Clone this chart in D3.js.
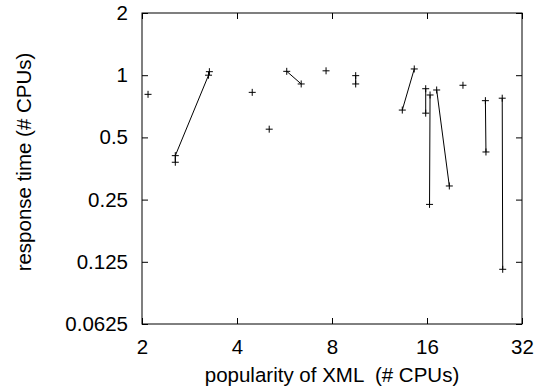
<!DOCTYPE html>
<html>
<head>
<meta charset="utf-8">
<script src="https://cdn.jsdelivr.net/npm/d3@7"></script>
<style>
  body { margin: 0; background: #fff; }
  svg { display: block; font-family: "Liberation Sans", Arial, sans-serif; }
  .axis path { display: none; }
  .axis line { stroke: #000; }
  .axis text { font-size: 20.5px; fill: #000; }
</style>
</head>
<body>
<div id="chart"></div>
<script>
// each measurement: which run it belongs to, popularity (x), response time (y)
const run = [0, 1, 1, 1, 1, 2, 3, 4, 4, 5, 6, 6, 7, 7, 8, 8, 9, 9, 10, 10, 11, 12, 12, 13, 13];
const popularity = [2.09, 2.55, 2.55, 3.25, 3.27, 4.47, 5.06, 5.75, 6.39, 7.66, 9.51, 9.51, 13.36, 14.58,
  15.85, 15.85, 16.36, 16.3, 17.17, 18.83, 20.8, 24.5, 24.6, 27.7, 27.8];
const responseTime = [0.808, 0.379, 0.408, 1.0, 1.04, 0.826, 0.548, 1.044, 0.907, 1.05, 0.995, 0.907, 0.678, 1.072,
  0.86, 0.655, 0.802, 0.237, 0.848, 0.291, 0.894, 0.753, 0.425, 0.774, 0.115];

const xTicks = [2, 4, 8, 16, 32];
const yTicks = [0.0625, 0.125, 0.25, 0.5, 1, 2];

const width = 536, height = 391;
const margin = { top: 13, right: 14, bottom: 67, left: 142 };
const innerW = width - margin.left - margin.right;
const innerH = height - margin.top - margin.bottom;

const svg = d3.select("#chart").append("svg")
  .attr("width", width)
  .attr("height", height);

const g = svg.append("g").attr("transform", `translate(${margin.left},${margin.top})`);

const x = d3.scaleLog().base(2).domain([2, 32]).range([0, innerW]);
const y = d3.scaleLog().base(2).domain([0.0625, 2]).range([innerH, 0]);

// axes, ticks pointing inward on all four sides
g.append("g")
  .attr("class", "axis axis-x")
  .attr("transform", `translate(0,${innerH})`)
  .call(d3.axisBottom(x).tickValues(xTicks).tickFormat(d => d).tickSize(-6).tickPadding(15));

g.append("g")
  .attr("class", "axis axis-x2")
  .call(d3.axisTop(x).tickValues(xTicks).tickFormat("").tickSize(-6));

g.append("g")
  .attr("class", "axis axis-y")
  .call(d3.axisLeft(y).tickValues(yTicks).tickFormat(d => d).tickSize(-6).tickPadding(14));

g.append("g")
  .attr("class", "axis axis-y2")
  .attr("transform", `translate(${innerW},0)`)
  .call(d3.axisRight(y).tickValues(yTicks).tickFormat("").tickSize(-6));

g.append("rect")
  .attr("width", innerW)
  .attr("height", innerH)
  .attr("fill", "none")
  .attr("stroke", "#000")
  .attr("stroke-width", 1);

const points = run.map((r, i) => ({ run: r, x: popularity[i], y: responseTime[i] }));
const runs = d3.groups(points, d => d.run);

const line = d3.line()
  .x(d => x(d.x))
  .y(d => y(d.y));

g.selectAll(".run")
  .data(runs)
  .enter().append("path")
  .attr("class", "run")
  .attr("d", d => line(d[1]))
  .attr("fill", "none")
  .attr("stroke", "#000")
  .attr("stroke-width", 1);

const s = 3.5;
g.selectAll(".pt")
  .data(points)
  .enter().append("path")
  .attr("class", "pt")
  .attr("d", d => {
    const px = x(d.x), py = y(d.y);
    return `M${px - s},${py}H${px + s}M${px},${py - s}V${py + s}`;
  })
  .attr("stroke", "#000")
  .attr("stroke-width", 1);

svg.append("text")
  .attr("x", margin.left + innerW / 2)
  .attr("y", 382)
  .attr("text-anchor", "middle")
  .attr("xml:space", "preserve")
  .style("font-size", "20.5px")
  .text("popularity of XML  (# CPUs)");

svg.append("text")
  .attr("transform", "translate(31,162) rotate(-90)")
  .attr("text-anchor", "middle")
  .style("font-size", "20.5px")
  .text("response time (# CPUs)");
</script>
</body>
</html>
